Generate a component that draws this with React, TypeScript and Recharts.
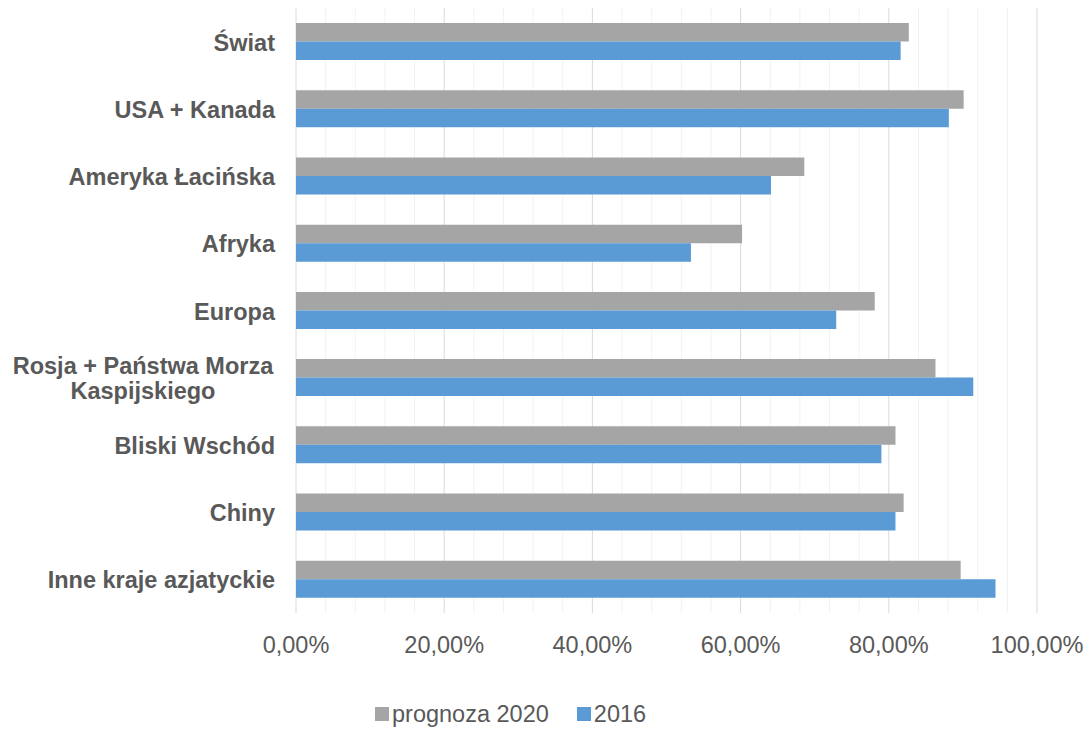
import { BarChart, Bar, XAxis, YAxis, CartesianGrid, Legend } from 'recharts';

// Regions, top to bottom. "\n" marks a manual line break in the axis label.
const regions = [
  'Świat',
  'USA + Kanada',
  'Ameryka Łacińska',
  'Afryka',
  'Europa',
  'Rosja + Państwa Morza\nKaspijskiego',
  'Bliski Wschód',
  'Chiny',
  'Inne kraje azjatyckie',
];

// Values in percent
const forecast2020 = [82.7, 90.1, 68.6, 60.2, 78.1, 86.3, 80.9, 82.0, 89.7];
const actual2016 = [81.6, 88.1, 64.1, 53.3, 72.9, 91.4, 79.0, 80.9, 94.4];

const majorTicks = [0, 20, 40, 60, 80, 100];
const minorTicks = [4, 8, 12, 16, 24, 28, 32, 36, 44, 48, 52, 56, 64, 68, 72, 76, 84, 88, 92, 96];

const legendOrder = ['prognoza 2020', '2016'];

const GRAY = '#A5A5A5';
const BLUE = '#5B9BD5';
const INK = '#595959';
const FONT = '"Liberation Sans", Arial, sans-serif';

const data = regions.map((name, i) => ({
  name,
  prognoza: forecast2020[i],
  y2016: actual2016[i],
}));

const fmtPct = (v: number) => `${v.toFixed(2).replace('.', ',')}%`;

const CategoryTick = ({ x, y, payload }: any) => {
  const lines: string[] = String(payload.value).split('\n');
  if (lines.length === 1) {
    return (
      <text x={x} y={y + 9} textAnchor="end" fill={INK} fontSize={23.5} fontWeight="bold" fontFamily={FONT}>
        {lines[0]}
      </text>
    );
  }
  // wrapped label: centred block, right edge on the tick position
  const cx = x - 132;
  return (
    <text textAnchor="middle" fill={INK} fontSize={23.5} fontWeight="bold" fontFamily={FONT}>
      <tspan x={cx} y={y - 4}>{lines[0]}</tspan>
      <tspan x={cx} y={y + 21}>{lines[1]}</tspan>
    </text>
  );
};

const LegendContent = ({ payload }: any) => {
  const items = [...(payload || [])].sort(
    (a: any, b: any) => legendOrder.indexOf(a.value) - legendOrder.indexOf(b.value),
  );
  return (
    <div style={{ height: 30, display: 'flex', alignItems: 'center', paddingLeft: 375, fontFamily: FONT }}>
      {items.map((p: any, i: number) => (
        <div key={p.value} style={{ display: 'flex', alignItems: 'center', marginRight: i === 0 ? 28 : 0 }}>
          <span style={{ width: 14, height: 14, background: p.color, marginRight: 3, display: 'inline-block' }} />
          <span style={{ fontSize: 23.5, color: INK }}>{p.value}</span>
        </div>
      ))}
    </div>
  );
};

export default function App() {
  return (
    <div style={{ position: 'absolute', left: 0, top: 0, background: '#fff' }}>
      <BarChart
        width={1091}
        height={729}
        data={data}
        layout="vertical"
        margin={{ top: 8, right: 54, left: 0, bottom: 0 }}
        barSize={18.5}
        barGap={0}
      >
        <CartesianGrid horizontal={false} verticalValues={minorTicks} stroke="#F2F2F2" />
        <CartesianGrid horizontal={false} verticalValues={majorTicks} stroke="#D9D9D9" />
        <XAxis
          type="number"
          domain={[0, 100]}
          ticks={majorTicks}
          interval={0}
          tickFormatter={fmtPct}
          axisLine={false}
          tickLine={false}
          tickSize={0}
          tickMargin={23}
          height={86}
          tick={{ fill: INK, fontSize: 23.5, fontFamily: FONT }}
        />
        <YAxis
          type="category"
          dataKey="name"
          width={296}
          axisLine={false}
          tickLine={false}
          tickSize={0}
          tickMargin={21}
          interval={0}
          tick={<CategoryTick />}
        />
        <Legend verticalAlign="bottom" height={30} content={<LegendContent />} />
        <Bar dataKey="prognoza" name="prognoza 2020" fill={GRAY} isAnimationActive={false} />
        <Bar dataKey="y2016" name="2016" fill={BLUE} isAnimationActive={false} />
      </BarChart>
    </div>
  );
}
